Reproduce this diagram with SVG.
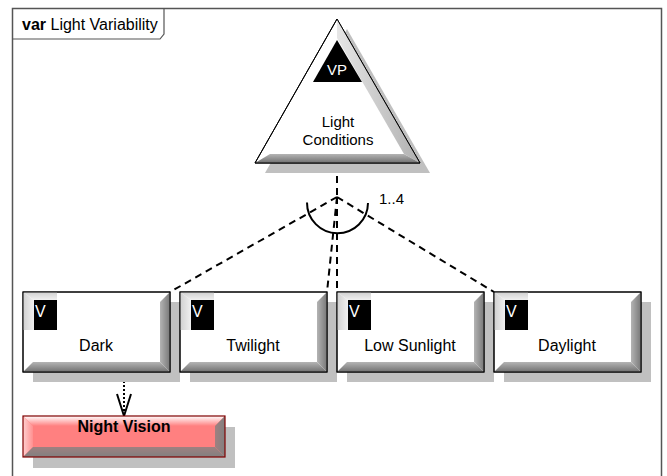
<svg xmlns="http://www.w3.org/2000/svg" width="667" height="476" viewBox="0 0 667 476">
<style>
text{font-family:"Liberation Sans",Arial,sans-serif;}
.lbl{font-size:16px;fill:#000;text-anchor:middle;}
.tag{font-size:16px;fill:#fff;}
.box{fill:#fff;stroke:#000;stroke-width:1;}
.shadow{fill:#c0c0c0;}
.conn{fill:none;stroke:#000;stroke-width:2;stroke-dasharray:7,5;}
</style>
<defs>
<linearGradient id="gR" x1="0" y1="0" x2="1" y2="0"><stop offset="0" stop-color="#b4b4b4"/><stop offset="1" stop-color="#787878"/></linearGradient>
<linearGradient id="gB" x1="0" y1="0" x2="0" y2="1"><stop offset="0" stop-color="#b4b4b4"/><stop offset="1" stop-color="#707070"/></linearGradient>
<linearGradient id="gT" x1="0" y1="0" x2="0" y2="1"><stop offset="0" stop-color="#d0d0d0"/><stop offset="1" stop-color="#f0f0f0"/></linearGradient>
<linearGradient id="gL" x1="0" y1="0" x2="1" y2="0"><stop offset="0" stop-color="#d0d0d0"/><stop offset="1" stop-color="#f0f0f0"/></linearGradient>
<linearGradient id="gTriR" x1="0" y1="0" x2="1" y2="0"><stop offset="0" stop-color="#e6e6e6"/><stop offset="1" stop-color="#b0b0b0"/></linearGradient>
<linearGradient id="nvT" x1="0" y1="0" x2="0" y2="1"><stop offset="0" stop-color="#ffffff"/><stop offset="1" stop-color="#ff8080"/></linearGradient>
<linearGradient id="nvL" x1="0" y1="0" x2="1" y2="0"><stop offset="0" stop-color="#ffd0d0"/><stop offset="1" stop-color="#ff9090"/></linearGradient>
<linearGradient id="nvR" x1="0" y1="0" x2="1" y2="0"><stop offset="0" stop-color="#a08080"/><stop offset="1" stop-color="#808080"/></linearGradient>
<linearGradient id="nvB" x1="0" y1="0" x2="0" y2="1"><stop offset="0" stop-color="#a08080"/><stop offset="1" stop-color="#808080"/></linearGradient>
<g id="vnode">
<rect class="shadow" x="10" y="10" width="147" height="80"/>
<rect class="box" x="0" y="0" width="147" height="80"/>
<polygon points="147,0 147,80 137,70 137,10" fill="url(#gR)"/>
<polygon points="0,80 147,80 137,70 10,70" fill="url(#gB)"/>
<polygon points="0,0 34,0 34,8 11,8" fill="url(#gT)"/>
<polygon points="0,0 11,8 11,38 0,38" fill="url(#gL)"/>
<rect x="11" y="8" width="23" height="30" fill="#000"/>
<rect x="0" y="0" width="147" height="80" fill="none" stroke="#000" stroke-width="1"/>
<text class="tag" x="12" y="25">V</text>
</g>
</defs>
<rect width="667" height="476" fill="#fff"/>
<g id="frame">
<path d="M12.5,490 L12.5,8.5 L661.5,8.5 L661.5,490" fill="none" stroke="#555" stroke-width="1.5"/>
<path d="M12.5,39 L160,39 L164,34 L164,8.5" fill="none" stroke="#555" stroke-width="1.2"/>
<text x="22" y="30" style="font-size:16px"><tspan font-weight="bold">var</tspan> Light Variability</text>
</g>
<g id="connectors">
<line class="conn" x1="337" y1="164" x2="337" y2="197"/>
<line class="conn" x1="337" y1="197" x2="170" y2="292"/>
<line class="conn" x1="337" y1="197" x2="327" y2="292"/>
<line class="conn" x1="337" y1="197" x2="337" y2="292"/>
<line class="conn" x1="337" y1="197" x2="494" y2="292"/>
<path d="M307,202.5 A30.5,30.5 0 0 0 368,203" fill="none" stroke="#000" stroke-width="2"/>
<text x="379" y="204" style="font-size:15px">1..4</text>
<line x1="124" y1="373" x2="124" y2="415" stroke="#000" stroke-width="2" stroke-dasharray="2,2"/>
<path d="M117,394 L124,416 L131,394" fill="none" stroke="#000" stroke-width="2"/>
</g>
<g id="vp-light-conditions">
<polygon points="347,29 265,173 430,173" class="shadow"/>
<polygon points="337,19 255,163 420,163" fill="#fff" stroke="#000" stroke-width="1"/>
<polygon points="337,19 420,163 404,154 337,38" fill="url(#gTriR)"/>
<polygon points="255,163 420,163 404,154 270,154" fill="url(#gB)"/>
<polygon points="337,19 255,163 420,163" fill="none" stroke="#000" stroke-width="1"/>
<polygon points="337,40 313,82 362,82" fill="#000"/>
<text class="tag" x="337" y="75" text-anchor="middle" style="font-size:15px">VP</text>
<text class="lbl" x="338" y="127" style="font-size:15px">Light</text>
<text class="lbl" x="338" y="145" style="font-size:15px">Conditions</text>
</g>
<g id="v-dark">
<use href="#vnode" x="23" y="292"/>
<text class="lbl" x="96" y="351">Dark</text>
</g>
<g id="v-twilight">
<use href="#vnode" x="180" y="292"/>
<text class="lbl" x="253" y="351">Twilight</text>
</g>
<g id="v-low-sunlight">
<use href="#vnode" x="337" y="292"/>
<text class="lbl" x="410" y="351">Low Sunlight</text>
</g>
<g id="v-daylight">
<use href="#vnode" x="494" y="292"/>
<text class="lbl" x="567" y="351">Daylight</text>
</g>
<g id="night-vision">
<rect class="shadow" x="33" y="427" width="202" height="41"/>
<rect x="23" y="416" width="202" height="41" fill="#ff8080"/>
<polygon points="23,416 225,416 215,426 33,426" fill="url(#nvT)"/>
<polygon points="23,416 33,426 33,447 23,457" fill="url(#nvL)"/>
<polygon points="225,416 225,457 215,447 215,426" fill="url(#nvR)"/>
<polygon points="23,457 225,457 215,447 33,447" fill="url(#nvB)"/>
<rect x="23" y="416" width="202" height="41" fill="none" stroke="#800000" stroke-width="1.2"/>
<text class="lbl" x="124" y="432" font-weight="bold">Night Vision</text>
</g>
</svg>
